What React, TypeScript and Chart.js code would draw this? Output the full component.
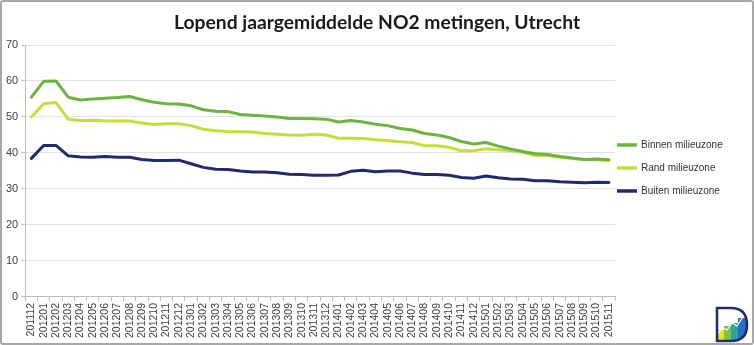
import React, { useEffect, useRef } from "react";
import { Chart, registerables } from "chart.js";

Chart.register(...registerables);

const months = [
  "201112", "201201", "201202", "201203", "201204", "201205", "201206", "201207", "201208", "201209", "201210", "201211",
  "201212", "201301", "201302", "201303", "201304", "201305", "201306", "201307", "201308", "201309", "201310", "201311",
  "201312", "201401", "201402", "201403", "201404", "201405", "201406", "201407", "201408", "201409", "201410", "201411",
  "201412", "201501", "201502", "201503", "201504", "201505", "201506", "201507", "201508", "201509", "201510", "201511",
];

const binnen = [
  55.5, 59.9, 60.0, 55.5, 54.7, 55.0, 55.2, 55.4, 55.7, 54.8, 54.1, 53.7,
  53.6, 53.1, 52.0, 51.6, 51.5, 50.7, 50.5, 50.3, 50.0, 49.6, 49.6, 49.5,
  49.4, 48.6, 49.0, 48.6, 48.0, 47.6, 46.8, 46.4, 45.4, 45.0, 44.3, 43.2,
  42.5, 42.9, 41.9, 41.1, 40.4, 39.8, 39.6, 39.0, 38.6, 38.2, 38.3, 38.1,
];

const rand = [
  50.0, 53.7, 54.0, 49.4, 49.0, 49.1, 48.9, 48.9, 48.9, 48.3, 47.9, 48.1,
  48.1, 47.6, 46.6, 46.2, 46.0, 45.9, 45.8, 45.4, 45.2, 45.0, 44.9, 45.2,
  45.0, 44.1, 44.1, 44.0, 43.7, 43.5, 43.1, 42.9, 42.0, 42.0, 41.6, 40.6,
  40.6, 41.2, 40.9, 40.6, 40.2, 39.3, 39.3, 38.8, 38.5, 38.2, 38.1, 37.9,
];

const buiten = [
  38.5, 42.1, 42.1, 39.2, 38.9, 38.8, 39.0, 38.8, 38.8, 38.2, 37.9, 37.9,
  38.0, 37.0, 36.0, 35.5, 35.4, 35.0, 34.7, 34.7, 34.5, 34.1, 34.0, 33.8,
  33.8, 33.9, 34.9, 35.2, 34.8, 35.0, 35.0, 34.4, 34.0, 34.0, 33.8, 33.2,
  33.0, 33.6, 33.1, 32.8, 32.7, 32.3, 32.3, 32.0, 31.9, 31.7, 31.9, 31.8,
];

const chartTitle = "Lopend jaargemiddelde NO2 metingen, Utrecht";
const seriesNames = ["Binnen milieuzone", "Rand milieuzone", "Buiten milieuzone"];
const seriesColors = ["#6cb33f", "#c8dc3c", "#222a6e"];
const yMin = 0;
const yMax = 70;
const yStep = 10;

const FONT = "'Liberation Sans', Arial, sans-serif";

// Legend drawn from the datasets (label + colour), placed to the right of the plot area
const sideLegend = {
  id: "sideLegend",
  afterDraw(chart: any) {
    const { ctx, chartArea } = chart;
    const items = chart.data.datasets;
    const spacing = 23;
    const centerY = (chartArea.top + chartArea.bottom) / 2 - 3;
    const x0 = chartArea.right + 2;
    ctx.save();
    ctx.font = `10px ${FONT}`;
    ctx.textBaseline = "middle";
    ctx.textAlign = "left";
    items.forEach((ds: any, i: number) => {
      const y = centerY + (i - (items.length - 1) / 2) * spacing;
      ctx.strokeStyle = ds.borderColor;
      ctx.lineWidth = 3.5;
      ctx.lineCap = "butt";
      ctx.beginPath();
      ctx.moveTo(x0, y);
      ctx.lineTo(x0 + 20, y);
      ctx.stroke();
      ctx.fillStyle = "#333333";
      ctx.fillText(ds.label, x0 + 24, y + 0.5);
    });
    ctx.restore();
  },
};

function Logo() {
  return (
    <svg width="38" height="40" viewBox="0 0 38 40" style={{ position: "absolute", left: 711, top: 302 }}>
      <defs>
        <clipPath id="dclip">
          <path d="M4 4 L18 4 Q34 4 34 21 Q34 37 18 37 L4 37 Z" />
        </clipPath>
      </defs>
      <g clipPath="url(#dclip)">
        <rect x="4" y="26" width="7" height="12" fill="#e6e02a" />
        <rect x="11" y="22" width="7" height="16" fill="#7cc242" />
        <rect x="18" y="19" width="7" height="19" fill="#2aa6a0" />
        <rect x="25" y="14" width="10" height="24" fill="#2a6cc0" />
        <polyline points="4,30 10,24 14,26 19,19 24,22 30,13 36,8" fill="none" stroke="#ffffff" strokeWidth="1.2" />
      </g>
      <path d="M4 4 L18 4 Q34 4 34 21 Q34 37 18 37 L4 37 Z" fill="none" stroke="#222a6e" strokeWidth="2.5" />
    </svg>
  );
}

export default function App() {
  const canvasRef = useRef<HTMLCanvasElement | null>(null);

  useEffect(() => {
    const canvas = canvasRef.current;
    if (!canvas) return;
    const datasets = [binnen, rand, buiten].map((data, i) => ({
      label: seriesNames[i],
      data,
      borderColor: seriesColors[i],
      backgroundColor: seriesColors[i],
      borderWidth: 3,
      pointRadius: 0,
      tension: 0,
      borderJoinStyle: "round" as const,
      borderCapStyle: "round" as const,
    }));
    const chart = new Chart(canvas, {
      type: "line",
      data: { labels: months, datasets },
      plugins: [sideLegend],
      options: {
        animation: false,
        responsive: false,
        maintainAspectRatio: false,
        layout: { padding: { left: 1, right: 137, top: 43, bottom: 3 } },
        plugins: {
          title: { display: false },
          legend: { display: false },
          tooltip: { enabled: false },
        },
        scales: {
          x: {
            offset: true,
            grid: {
              display: true,
              drawOnChartArea: false,
              offset: true,
              drawTicks: true,
              tickLength: 4,
              color: "#bdbdbd",
            },
            border: { color: "#bdbdbd" },
            ticks: {
              autoSkip: false,
              minRotation: 90,
              maxRotation: 90,
              color: "#404040",
              font: { family: FONT, size: 10.5 },
              padding: 2,
            },
          },
          y: {
            min: yMin,
            max: yMax,
            grid: { color: "#e2e2e2", tickColor: "#bdbdbd", tickLength: 4 },
            border: { color: "#bdbdbd" },
            ticks: {
              stepSize: yStep,
              color: "#404040",
              font: { family: FONT, size: 11 },
              padding: 3,
            },
          },
        },
      },
    });
    return () => chart.destroy();
  }, []);

  return (
    <div
      style={{
        position: "fixed",
        left: 0,
        top: 0,
        width: 754,
        height: 345,
        boxSizing: "border-box",
        border: "2px solid #a8a8a8",
        borderRadius: 3,
        background: "#ffffff",
        overflow: "hidden",
      }}
    >
      <canvas ref={canvasRef} width={750} height={341} style={{ display: "block" }} />
      <div
        style={{
          position: "absolute",
          left: 0,
          top: 8,
          width: 750,
          textAlign: "center",
          fontFamily: "Lato, 'Open Sans', sans-serif",
          fontWeight: 700,
          fontSize: 19.3,
          lineHeight: "24px",
          color: "#1a1a1a",
        }}
      >
        {chartTitle}
      </div>
      <Logo />
    </div>
  );
}
